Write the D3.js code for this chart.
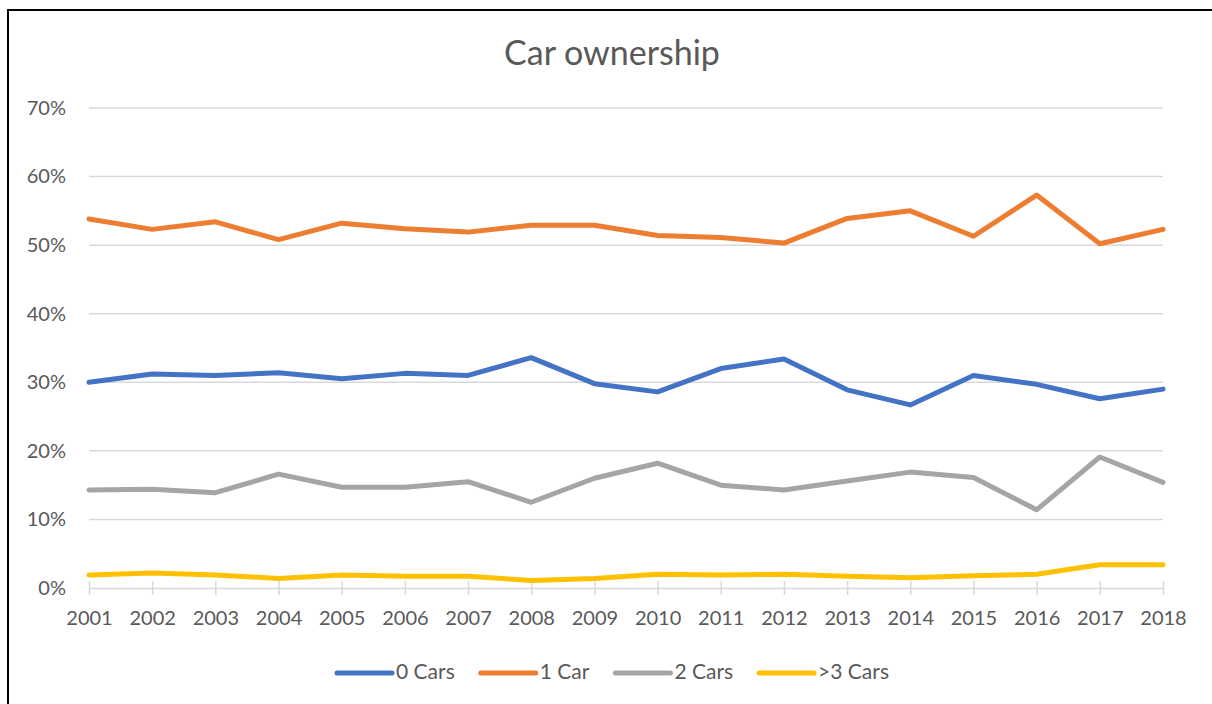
<!DOCTYPE html>
<html>
<head>
<meta charset="utf-8">
<script src="https://cdn.jsdelivr.net/npm/d3@7"></script>
<style>
  body { margin: 0; background: #fff; }
  svg text { font-family: Lato, "Open Sans", sans-serif; fill: #595959; }
</style>
</head>
<body>
<svg width="1212" height="704"></svg>
<script>
// years along the x axis
var years = ["2001", "2002", "2003", "2004", "2005", "2006", "2007", "2008", "2009",
             "2010", "2011", "2012", "2013", "2014", "2015", "2016", "2017", "2018"];

// share of households, by number of cars
var zeroCars  = [0.300, 0.312, 0.310, 0.314, 0.305, 0.313, 0.310, 0.336, 0.298,
                 0.286, 0.320, 0.334, 0.289, 0.267, 0.310, 0.297, 0.276, 0.290];
var oneCar    = [0.538, 0.523, 0.534, 0.508, 0.532, 0.524, 0.519, 0.529, 0.529,
                 0.514, 0.511, 0.503, 0.539, 0.550, 0.513, 0.573, 0.502, 0.523];
var twoCars   = [0.143, 0.144, 0.139, 0.166, 0.147, 0.147, 0.155, 0.125, 0.160,
                 0.182, 0.150, 0.143, 0.156, 0.169, 0.161, 0.114, 0.191, 0.154];
var threeCars = [0.019, 0.022, 0.019, 0.014, 0.019, 0.017, 0.017, 0.011, 0.014,
                 0.020, 0.019, 0.020, 0.017, 0.015, 0.018, 0.020, 0.034, 0.034];

var seriesNames = ["0 Cars", "1 Car", "2 Cars", ">3 Cars"];
var colors = ["#4472C4", "#ED7D31", "#A5A5A5", "#FFC000"];
var yTicks = [0, 0.1, 0.2, 0.3, 0.4, 0.5, 0.6, 0.7];

var series = [zeroCars, oneCar, twoCars, threeCars].map(function(vals, i) {
    return { name: seriesNames[i], color: colors[i], values: vals };
});

var svg = d3.select("svg");

// outer frame
svg.append("rect")
    .attr("x", 8).attr("y", 10)
    .attr("width", 1240).attr("height", 720)
    .attr("fill", "none")
    .attr("stroke", "#000")
    .attr("stroke-width", 2);

var x = d3.scalePoint()
    .domain(years)
    .range([89, 1163]);

var y = d3.scaleLinear()
    .domain([0, 0.7])
    .range([588, 108]);

// horizontal gridlines
svg.append("g")
    .selectAll("line")
    .data(yTicks.slice(1))
    .enter().append("line")
    .attr("x1", 89).attr("x2", 1163)
    .attr("y1", function(d) { return y(d); })
    .attr("y2", function(d) { return y(d); })
    .attr("stroke", "#D9D9D9")
    .attr("stroke-width", 1.5);

// y axis labels
var yAxis = svg.append("g")
    .attr("transform", "translate(66,0)")
    .call(d3.axisLeft(y).tickValues(yTicks).tickFormat(d3.format(".0%")).tickSize(0).tickPadding(0));
yAxis.select(".domain").remove();
yAxis.selectAll("text")
    .attr("dy", "0.32em")
    .style("font-size", "20px")
    .attr("fill", "#595959");

// x axis with ticks crossing the baseline
var xAxis = svg.append("g")
    .attr("transform", "translate(0,588)")
    .call(d3.axisBottom(x).tickSizeInner(7).tickSizeOuter(0).tickPadding(16));
xAxis.select(".domain")
    .attr("stroke", "#D9D9D9")
    .attr("stroke-width", 1.5);
xAxis.selectAll(".tick line")
    .attr("y1", -7)
    .attr("stroke", "#D9D9D9")
    .attr("stroke-width", 1.5);
xAxis.selectAll("text")
    .style("font-size", "20px")
    .attr("fill", "#595959");

// the lines
var line = d3.line()
    .x(function(d, i) { return x(years[i]); })
    .y(function(d) { return y(d); });

svg.append("g")
    .selectAll("path")
    .data(series)
    .enter().append("path")
    .attr("d", function(d) { return line(d.values); })
    .attr("fill", "none")
    .attr("stroke", function(d) { return d.color; })
    .attr("stroke-width", 5)
    .attr("stroke-linejoin", "round")
    .attr("stroke-linecap", "round");

// title
svg.append("text")
    .attr("x", 612)
    .attr("y", 65)
    .attr("text-anchor", "middle")
    .style("font-size", "34px")
    .text("Car ownership");

// legend, centred under the plot
var legend = svg.append("g");
var xPos = 0;
series.forEach(function(s) {
    var item = legend.append("g").attr("transform", "translate(" + xPos + ",0)");
    item.append("line")
        .attr("x1", 0).attr("x2", 55)
        .attr("y1", 0).attr("y2", 0)
        .attr("stroke", s.color)
        .attr("stroke-width", 5)
        .attr("stroke-linecap", "round");
    var t = item.append("text")
        .attr("x", 59)
        .attr("y", 6)
        .style("font-size", "21px")
        .text(s.name);
    xPos += 59 + t.node().getComputedTextLength() + 26;
});
var legendWidth = xPos - 26;
legend.attr("transform", "translate(" + (613 - legendWidth / 2) + ",673)");
</script>
</body>
</html>
